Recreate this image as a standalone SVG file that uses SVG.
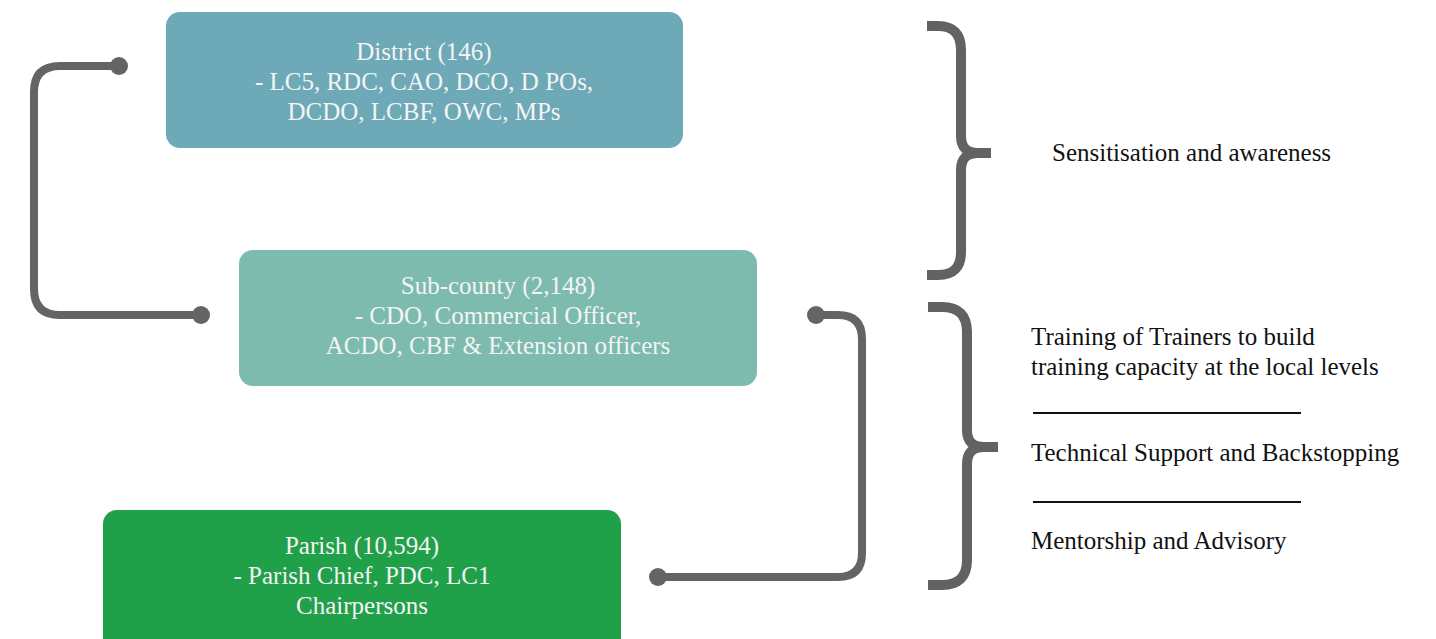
<svg xmlns="http://www.w3.org/2000/svg" width="1436" height="639" viewBox="0 0 1436 639">
  <style>
    .box-text { font-family: "Liberation Serif", "Times New Roman", serif; font-size: 25px; fill: #f4f4f4; text-anchor: middle; }
    .side-text { font-family: "Liberation Serif", "Times New Roman", serif; font-size: 25px; fill: #111111; }
    .link { fill: none; stroke: #646464; stroke-width: 8; }
    .dot { fill: #646464; }
    .brace { fill: none; stroke: #626262; stroke-width: 10; }
    .rule { stroke: #111111; stroke-width: 2; }
  </style>
  <rect width="1436" height="639" fill="#ffffff"/>

  <!-- level boxes -->
  <g id="district">
    <rect x="166" y="12" width="517" height="136" rx="14" fill="#6da9b7"/>
    <text class="box-text" x="424" y="60">District (146)</text>
    <text class="box-text" x="424" y="90">- LC5, RDC, CAO, DCO, D POs,</text>
    <text class="box-text" x="424" y="120">DCDO, LCBF, OWC, MPs</text>
  </g>
  <g id="subcounty">
    <rect x="239" y="250" width="518" height="136" rx="14" fill="#7cbbad"/>
    <text class="box-text" x="498" y="294">Sub-county (2,148)</text>
    <text class="box-text" x="498" y="324">- CDO, Commercial Officer,</text>
    <text class="box-text" x="498" y="354">ACDO, CBF &amp; Extension officers</text>
  </g>
  <g id="parish">
    <rect x="103" y="510" width="518" height="150" rx="14" fill="#21a04a"/>
    <text class="box-text" x="362" y="554">Parish (10,594)</text>
    <text class="box-text" x="362" y="584">- Parish Chief, PDC, LC1</text>
    <text class="box-text" x="362" y="614">Chairpersons</text>
  </g>

  <!-- connectors between levels -->
  <g id="connectors">
    <path class="link" d="M119,66 H60 Q34,66 34,92 V289 Q34,315 60,315 H201"/>
    <circle class="dot" cx="119" cy="66" r="9"/>
    <circle class="dot" cx="201" cy="315" r="9"/>
    <path class="link" d="M816,315 H838 Q862,315 862,339 V553 Q862,577 838,577 H658"/>
    <circle class="dot" cx="816" cy="315" r="9"/>
    <circle class="dot" cx="658" cy="577" r="9"/>
  </g>

  <!-- braces grouping the activities -->
  <g id="brace-top">
    <path class="brace" d="M927,26 H938 Q961,26 961,50 V136 Q961,153 978,153 H991"/>
    <path class="brace" d="M978,153 Q961,153 961,170 V252 Q961,275 938,275 H927"/>
  </g>
  <g id="brace-bottom">
    <path class="brace" d="M928,307 H942 Q967,307 967,332 V430 Q967,447 984,447 H998"/>
    <path class="brace" d="M984,447 Q967,447 967,464 V560 Q967,585 942,585 H928"/>
  </g>

  <!-- activity labels -->
  <g id="sensitisation">
    <text class="side-text" x="1052" y="161">Sensitisation and awareness</text>
  </g>
  <g id="training">
    <text class="side-text" x="1031" y="345">Training of Trainers to build</text>
    <text class="side-text" x="1031" y="375">training capacity at the local levels</text>
  </g>
  <line class="rule" x1="1033" y1="413" x2="1301" y2="413"/>
  <g id="technical">
    <text class="side-text" x="1031" y="461">Technical Support and Backstopping</text>
  </g>
  <line class="rule" x1="1033" y1="502" x2="1301" y2="502"/>
  <g id="mentorship">
    <text class="side-text" x="1031" y="549">Mentorship and Advisory</text>
  </g>
</svg>
